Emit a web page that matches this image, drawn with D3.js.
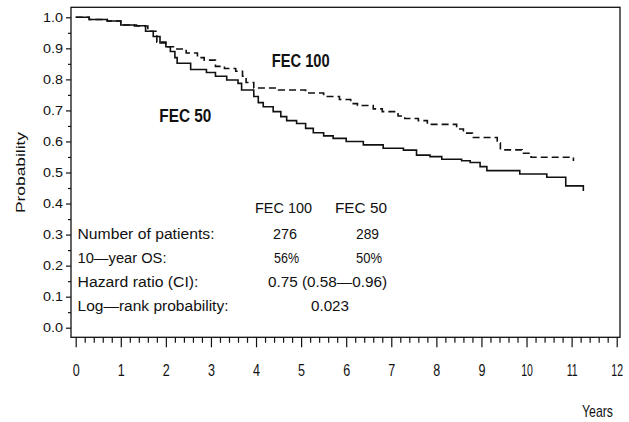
<!DOCTYPE html>
<html>
<head>
<meta charset="utf-8">
<script src="https://cdn.jsdelivr.net/npm/d3@7"></script>
<style>
  html, body { margin: 0; padding: 0; background: #fff; }
  svg { display: block; }
  text { font-family: "Liberation Sans", Arial, sans-serif; fill: #111; }
</style>
</head>
<body>
<svg id="chart" width="629" height="422"></svg>
<script>
// ---- data ----
const fec100Years = [0, 0.3, 0.7, 1.0, 1.3, 1.6, 1.8, 2.0, 2.2, 2.45, 2.7, 2.85, 3.1, 3.3, 3.55, 3.7, 3.78, 3.95, 4.5, 5.1, 5.5, 5.85, 6.1, 6.25, 6.6, 6.8, 7.15, 7.3, 7.6, 7.8, 8.45, 8.6, 8.8, 9.35, 9.42, 9.9, 10.1, 11.04];
const fec100Surv  = [1.0, 0.993, 0.988, 0.975, 0.972, 0.955, 0.92, 0.905, 0.898, 0.885, 0.870, 0.862, 0.842, 0.835, 0.826, 0.81, 0.79, 0.772, 0.766, 0.756, 0.745, 0.735, 0.722, 0.716, 0.705, 0.696, 0.682, 0.674, 0.667, 0.655, 0.640, 0.627, 0.613, 0.595, 0.573, 0.562, 0.549, 0.537];

const fec50Years = [0, 0.3, 0.7, 1.0, 1.35, 1.55, 1.72, 1.87, 2.0, 2.1, 2.2, 2.25, 2.55, 2.9, 3.1, 3.35, 3.6, 3.68, 3.95, 4.05, 4.16, 4.38, 4.55, 4.68, 4.9, 5.1, 5.27, 5.5, 5.71, 6.0, 6.38, 6.82, 7.27, 7.56, 7.86, 8.12, 8.56, 8.75, 8.97, 9.12, 9.85, 10.45, 10.87, 11.26];
const fec50Surv  = [1.0, 0.993, 0.988, 0.975, 0.973, 0.955, 0.938, 0.917, 0.905, 0.89, 0.87, 0.852, 0.832, 0.822, 0.81, 0.798, 0.787, 0.766, 0.745, 0.725, 0.712, 0.696, 0.68, 0.667, 0.658, 0.642, 0.628, 0.618, 0.610, 0.600, 0.589, 0.578, 0.572, 0.556, 0.551, 0.5425, 0.538, 0.532, 0.519, 0.506, 0.495, 0.4845, 0.457, 0.44];

const xTicks = [0,1,2,3,4,5,6,7,8,9,10,11,12];
const yTicks = [0,0.1,0.2,0.3,0.4,0.5,0.6,0.7,0.8,0.9,1.0];

const tableHeader = ["FEC 100", "FEC 50"];
const tableRows = ["Number of patients:", "10—year OS:", "Hazard ratio (CI):", "Log—rank probability:"];
const fec100Col = ["276", "56%"];
const fec50Col = ["289", "50%"];
const hazardText = "0.75 (0.58—0.96)";
const logRankText = "0.023";

// ---- layout ----
const svg = d3.select("#chart");
const frame = {left: 71, right: 620, top: 7.3, bottom: 337.3};
const x = d3.scaleLinear().domain([0, 12]).range([75.7, 616.7]);
const y = d3.scaleLinear().domain([0, 1]).range([327.7, 17.3]);

// frame
svg.append("rect")
  .attr("x", frame.left).attr("y", frame.top)
  .attr("width", frame.right - frame.left).attr("height", frame.bottom - frame.top)
  .attr("fill", "none").attr("stroke", "#111").attr("stroke-width", 1.3);

// y axis
const yMinor = d3.range(0.05, 1.0, 0.1);
const gyMinor = svg.append("g").attr("transform", `translate(${frame.left},0)`)
  .call(d3.axisLeft(y).tickValues(yMinor).tickSize(3).tickFormat(""));
const gy = svg.append("g").attr("transform", `translate(${frame.left},0)`)
  .call(d3.axisLeft(y).tickValues(yTicks).tickSize(5).tickPadding(3).tickFormat(d3.format(".1f")));
[gy, gyMinor].forEach(g => {
  g.select(".domain").remove();
  g.selectAll("line").attr("stroke", "#111").attr("stroke-width", 1.2);
});
gy.selectAll("text")
  .attr("font-size", 12.5).attr("font-family", "Liberation Sans, Arial, sans-serif")
  .attr("fill", "#111")
  .attr("textLength", 20).attr("lengthAdjust", "spacingAndGlyphs");

// x axis
const xMinor = d3.range(0, 60).filter(i => i % 5 !== 0).map(i => i / 5);
const gxMinor = svg.append("g").attr("transform", `translate(0,${frame.bottom})`)
  .call(d3.axisBottom(x).tickValues(xMinor).tickSize(5.5).tickFormat(""));
const gx = svg.append("g").attr("transform", `translate(0,${frame.bottom})`)
  .call(d3.axisBottom(x).tickValues(xTicks).tickSize(10).tickPadding(16.6).tickFormat(d3.format("d")));
[gx, gxMinor].forEach(g => {
  g.select(".domain").remove();
  g.selectAll("line").attr("stroke", "#111").attr("stroke-width", 1.2);
});
gx.selectAll("text")
  .attr("font-size", 17).attr("font-family", "Liberation Sans, Arial, sans-serif")
  .attr("fill", "#111")
  .attr("transform", d => `scale(${String(d).length > 1 ? 0.62 : 0.74},1)`);

// axis titles
svg.append("text")
  .attr("transform", "translate(24.5,172.5) rotate(-90)")
  .attr("text-anchor", "middle").attr("font-size", 13)
  .attr("textLength", 81).attr("lengthAdjust", "spacingAndGlyphs")
  .text("Probability");
svg.append("text")
  .attr("x", 582).attr("y", 417).attr("font-size", 17)
  .attr("textLength", 31).attr("lengthAdjust", "spacingAndGlyphs")
  .text("Years");

// curves
const line = d3.line().x(d => x(d[0])).y(d => y(d[1])).curve(d3.curveStepAfter);
const fec100 = fec100Years.map((t, i) => [t, fec100Surv[i]]);
const fec50 = fec50Years.map((t, i) => [t, fec50Surv[i]]);
svg.append("path").datum(fec50).attr("d", line)
  .attr("fill", "none").attr("stroke", "#111").attr("stroke-width", 1.6);
svg.append("path").datum(fec100).attr("d", line)
  .attr("fill", "none").attr("stroke", "#111").attr("stroke-width", 1.6)
  .attr("stroke-dasharray", "7,4");

// curve labels
svg.append("text").attr("x", 271.7).attr("y", 66.7)
  .attr("font-size", 18).attr("font-weight", "bold")
  .attr("textLength", 58).attr("lengthAdjust", "spacingAndGlyphs")
  .text("FEC 100");
svg.append("text").attr("x", 159.3).attr("y", 121.7)
  .attr("font-size", 18).attr("font-weight", "bold")
  .attr("textLength", 52).attr("lengthAdjust", "spacingAndGlyphs")
  .text("FEC 50");

// table
const tfs = 15.5;
function t(str, x0, yb, w) {
  svg.append("text").attr("x", x0).attr("y", yb).attr("font-size", tfs)
    .attr("textLength", w).attr("lengthAdjust", "spacingAndGlyphs").text(str);
}
t(tableHeader[0], 255, 213.3, 57);
t(tableHeader[1], 335, 213.3, 52);
const rowBase = [238.5, 262.5, 286.5, 310.5];
const rowW = [137, 89, 121, 151];
tableRows.forEach((r, i) => t(r, 77.5, rowBase[i], rowW[i]));
t(fec100Col[0], 273, rowBase[0], 24);
t(fec50Col[0], 356, rowBase[0], 23);
t(fec100Col[1], 274, rowBase[1], 25);
t(fec50Col[1], 356, rowBase[1], 26);
t(hazardText, 268, rowBase[2], 119);
t(logRankText, 311, rowBase[3], 38);
</script>
</body>
</html>
